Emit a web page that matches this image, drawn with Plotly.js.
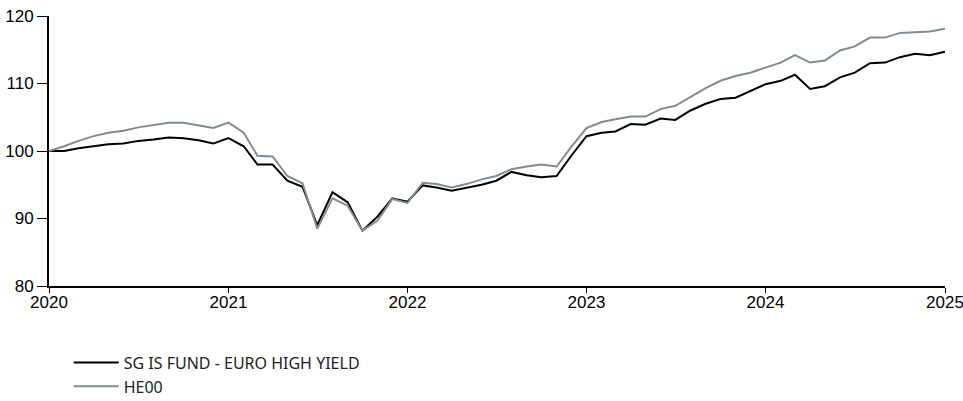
<!DOCTYPE html>
<html>
<head>
<meta charset="utf-8">
<script src="https://cdn.plot.ly/plotly-3.0.1.min.js"></script>
<style>html,body{margin:0;padding:0;background:#fff;}#chart{width:963px;height:401px;}</style>
</head>
<body>
<div id="chart"></div>
<script>
const dates = [];
for (let y = 2020; y <= 2025; y++) {
  for (let m = 1; m <= 12; m++) {
    if (y === 2025 && m > 1) break;
    dates.push(y + '-' + String(m).padStart(2, '0') + '-01');
  }
}
const fundName = 'SG IS FUND - EURO HIGH YIELD';
const benchName = 'HE00';
const fundValues = [100.0,100.0,100.4,100.7,101.0,101.1,101.5,101.7,102.0,101.9,101.6,101.1,
  101.9,100.7,98.0,98.0,95.6,94.7,89.0,93.9,92.4,88.2,90.3,93.0,
  92.5,94.9,94.6,94.1,94.5,95.0,95.6,96.9,96.4,96.1,96.3,99.3,
  102.2,102.7,102.9,104.0,103.9,104.8,104.6,106.0,107.0,107.7,107.9,108.9,
  109.9,110.4,111.3,109.2,109.6,110.9,111.6,113.0,113.1,113.9,114.4,114.2,
  114.7];
const benchValues = [100.0,100.7,101.5,102.2,102.7,103.0,103.5,103.8,104.2,104.2,103.8,103.4,
  104.2,102.7,99.3,99.2,96.3,95.2,88.5,93.0,91.9,88.2,89.7,92.9,
  92.3,95.3,95.1,94.6,95.1,95.8,96.3,97.3,97.7,98.0,97.7,100.6,
  103.4,104.3,104.7,105.1,105.1,106.2,106.7,108.0,109.3,110.4,111.1,111.6,
  112.3,113.1,114.2,113.1,113.4,114.9,115.5,116.8,116.8,117.5,117.6,117.7,
  118.1];
const xTickVals = ['2020-01-01','2021-01-01','2022-01-01','2023-01-01','2024-01-01','2025-01-01'];
const xTickText = ['2020','2021','2022','2023','2024','2025'];
const yTickVals = [80, 90, 100, 110, 120];

const traces = [
  {x: dates, y: fundValues, name: fundName, type: 'scatter', mode: 'lines',
   line: {color: '#000000', width: 2}},
  {x: dates, y: benchValues, name: benchName, type: 'scatter', mode: 'lines',
   line: {color: '#7f8c93', width: 2}}
];
const axisFont = {family: 'Liberation Sans, Arial, sans-serif', size: 17, color: '#000'};
const layout = {
  width: 963, height: 401,
  margin: {l: 49, r: 18, t: 16, b: 115, autoexpand: false},
  paper_bgcolor: '#fff', plot_bgcolor: '#fff',
  showlegend: true,
  xaxis: {type: 'date', range: ['2020-01-01', '2025-01-01'], tickvals: xTickVals, ticktext: xTickText,
    showgrid: false, zeroline: false, showline: true, linecolor: '#000', linewidth: 2,
    ticks: 'outside', ticklen: 5, tickcolor: '#000', tickwidth: 1, tickfont: axisFont,
    ticklabeloverflow: 'allow', ticklabelstandoff: -5},
  yaxis: {range: [80, 120], tickvals: yTickVals, showgrid: false, zeroline: false,
    showline: true, linecolor: '#000', linewidth: 2, ticks: 'outside', ticklen: 10,
    tickcolor: '#000', tickwidth: 1, tickfont: axisFont, ticklabeloverflow: 'allow'},
  legend: {x: 0.022, xanchor: 'left', yref: 'container', y: 0.138, yanchor: 'top', orientation: 'v',
    itemwidth: 45,
    font: {family: 'Noto Sans, sans-serif', size: 16, color: '#222'}, tracegroupgap: 0,
    bgcolor: 'rgba(0,0,0,0)'}
};
Plotly.newPlot('chart', traces, layout, {displayModeBar: false, staticPlot: true});
</script>
</body>
</html>
